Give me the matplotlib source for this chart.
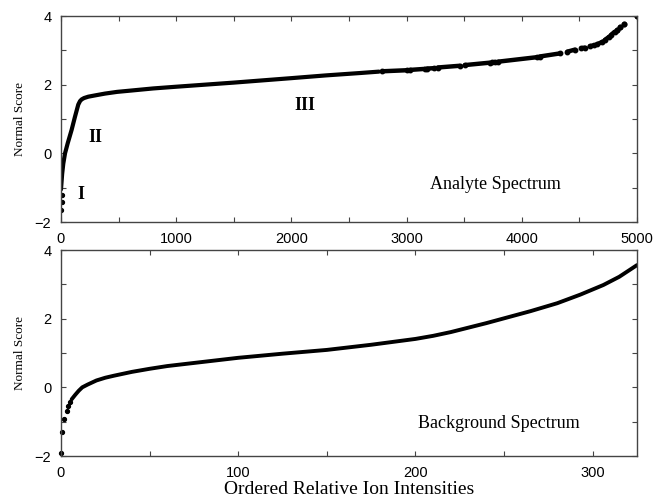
import matplotlib.pyplot as plt
from matplotlib.ticker import MultipleLocator

# analyte spectrum: dense part of the curve
top_x = [0, 10, 20, 35, 58, 92, 121, 150, 165, 179, 200, 237, 300, 382, 487, 613, 800, 1000, 1500, 2000,
         2300, 2600, 2760]
top_y = [-1.05, -0.6, -0.3, 0.0, 0.29, 0.68, 1.06, 1.42, 1.52, 1.57, 1.61, 1.65, 1.69, 1.74, 1.79, 1.83,
         1.89, 1.94, 2.06, 2.19, 2.27, 2.34, 2.38]
# lone points at the low end
top_low_x = [3, 6, 9]
top_low_y = [-1.65, -1.42, -1.2]
# sparse tail: short runs of points (start x, end x, start y, end y)
tail_x0 = [2790, 3030, 3180, 3270, 3505, 3745, 3795, 4155, 4395, 4515, 4590, 4650, 4720, 4775, 4825, 4855, 4890, 5000]
tail_x1 = [3000, 3160, 3235, 3460, 3720, 3765, 4130, 4330, 4460, 4545, 4630, 4700, 4760, 4805, 4825, 4855, 4890, 5000]
tail_y0 = [2.39, 2.43, 2.47, 2.5, 2.57, 2.65, 2.67, 2.82, 2.96, 3.06, 3.12, 3.17, 3.30, 3.45, 3.59, 3.67, 3.77, 4.0]
tail_y1 = [2.42, 2.46, 2.48, 2.55, 2.64, 2.66, 2.80, 2.91, 3.02, 3.08, 3.15, 3.25, 3.40, 3.54, 3.59, 3.67, 3.77, 4.0]

# background spectrum
bg_low_x = [0, 0.7, 1.7, 3.2, 4.1, 5.1]
bg_low_y = [-1.9, -1.3, -0.92, -0.68, -0.54, -0.44]
bg_x = [6, 8, 10, 12, 15, 20, 25, 30, 40, 50, 60, 80, 100, 125, 150, 175, 200, 210, 220, 230, 240,
        250, 265, 280, 293, 306, 315, 325]
bg_y = [-0.35, -0.22, -0.1, 0.0, 0.08, 0.2, 0.28, 0.34, 0.45, 0.54, 0.62, 0.74, 0.86, 0.98, 1.09, 1.24,
        1.41, 1.50, 1.61, 1.74, 1.87, 2.01, 2.22, 2.45, 2.7, 2.98, 3.22, 3.56]

serif = 'Liberation Serif'
sans = 'Liberation Sans'

fig = plt.figure(figsize=(6.53, 5.0), dpi=100)
ax1 = fig.add_axes([0.0934, 0.556, 0.8821, 0.412])
ax2 = fig.add_axes([0.0934, 0.088, 0.8821, 0.412])


def style(ax, xmaj, xmin):
    ax.xaxis.set_major_locator(MultipleLocator(xmaj))
    ax.xaxis.set_minor_locator(MultipleLocator(xmin))
    ax.yaxis.set_major_locator(MultipleLocator(2))
    ax.yaxis.set_minor_locator(MultipleLocator(1))
    ax.tick_params(which='both', direction='in', top=True, right=True,
                   length=3.5, width=0.8, color='#444444', pad=7)
    ax.tick_params(labelsize=10.5)
    for lab in ax.get_xticklabels() + ax.get_yticklabels():
        lab.set_family(sans)
    for sp in ax.spines.values():
        sp.set_color('#444444')
        sp.set_linewidth(1.0)
    ax.set_ylim(-2, 4)
    ax.set_ylabel('Normal Score', family=serif, fontsize=9.5, labelpad=6)


# top panel
ax1.plot(top_x, top_y, color='black', lw=3.0, solid_capstyle='round', solid_joinstyle='round')
ax1.plot(top_low_x, top_low_y, 'o', color='black', ms=2.8)
for x0, x1, y0, y1 in zip(tail_x0, tail_x1, tail_y0, tail_y1):
    ax1.plot([x0, x1], [y0, y1], color='black', lw=3.2, solid_capstyle='round',
             marker='o', ms=3.2)
ax1.set_xlim(0, 5000)
style(ax1, 1000, 500)
ax1.text(174, -1.2, 'I', family=serif, weight='bold', fontsize=13, ha='center', va='center')
ax1.text(296, 0.46, 'II', family=serif, weight='bold', fontsize=13, ha='center', va='center')
ax1.text(2120, 1.38, 'III', family=serif, weight='bold', fontsize=13, ha='center', va='center')
ax1.text(3770, -0.91, 'Analyte Spectrum', family=serif, fontsize=13, ha='center', va='center')

# bottom panel
ax2.plot(bg_low_x, bg_low_y, 'o', color='black', ms=2.8, clip_on=False)
ax2.plot(bg_x, bg_y, color='black', lw=2.8, solid_capstyle='round', solid_joinstyle='round')
ax2.set_xlim(0, 325)
style(ax2, 100, 50)
ax2.text(247, -1.06, 'Background Spectrum', family=serif, fontsize=13, ha='center', va='center')
ax2.set_xlabel('Ordered Relative Ion Intensities', family=serif, fontsize=14, labelpad=1)

fig.savefig('out.png', dpi=100)
